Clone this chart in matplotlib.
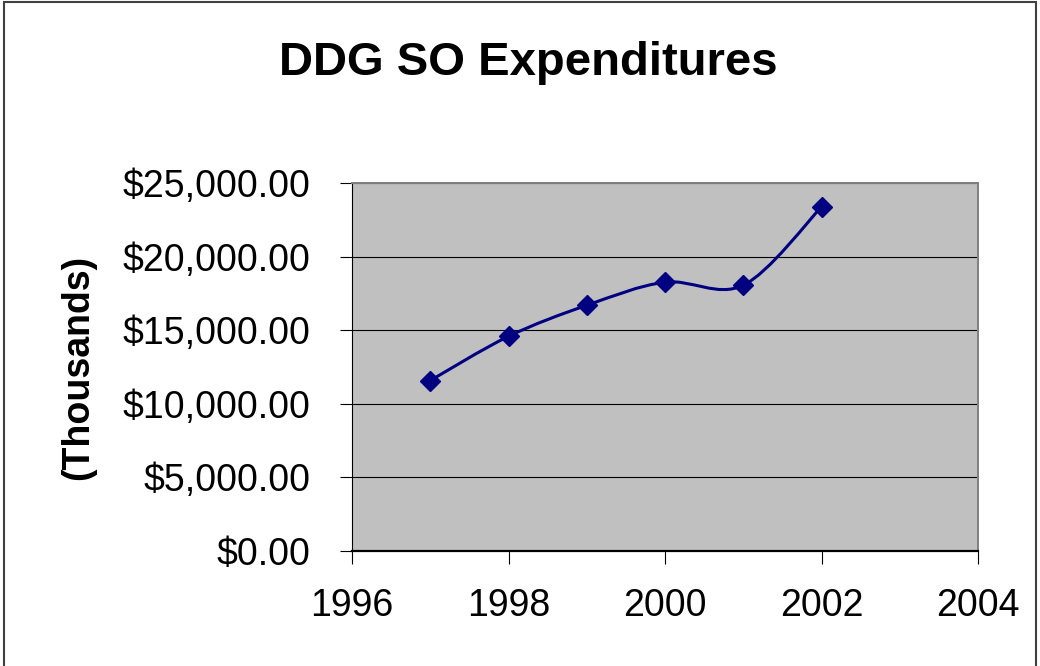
#!/usr/bin/env python3
"""DDG SO Expenditures - smoothed line with diamond markers, Excel style."""
import numpy as np
import matplotlib
matplotlib.use('Agg')
import matplotlib.pyplot as plt
from matplotlib.path import Path
from matplotlib.patches import PathPatch, Rectangle
from matplotlib.ticker import FuncFormatter, MultipleLocator

plt.rcParams.update({
    'font.family': ['Liberation Sans', 'DejaVu Sans'],
})

# data (thousands of dollars)
years = [1997, 1998, 1999, 2000, 2001, 2002]
expenditures = [11580, 14580, 16690, 18260, 18050, 23370]

TITLE = 'DDG SO Expenditures'
YLABEL = '(Thousands)'
NAVY = '#000080'


def smooth_path(x, y):
    # Excel-like smoothing: cubic Bezier segments, Catmull-Rom style control points
    pts = np.column_stack([x, y]).astype(float)
    ext = np.vstack([pts[0], pts, pts[-1]])
    verts = [pts[0]]
    codes = [Path.MOVETO]
    for i in range(len(pts) - 1):
        p0, p1, p2, p3 = ext[i], ext[i + 1], ext[i + 2], ext[i + 3]
        c1 = p1 + (p2 - p0) / 6.0
        c2 = p2 - (p3 - p1) / 6.0
        verts += [c1, c2, p2]
        codes += [Path.CURVE4] * 3
    return Path(verts, codes)


fig = plt.figure(figsize=(10.4, 6.66), dpi=100)
ax = fig.add_axes([0.3385, 0.1727, 0.6019, 0.5526])

ax.set_facecolor('#C0C0C0')
ax.add_patch(PathPatch(smooth_path(years, expenditures), fill=False,
                       edgecolor=NAVY, linewidth=2.2, zorder=3))
ax.plot(years, expenditures, 'D', color=NAVY, markersize=10.5, zorder=4)

ax.set_xlim(1996, 2004)
ax.set_ylim(0, 25000)
ax.xaxis.set_major_locator(MultipleLocator(2))
ax.yaxis.set_major_locator(MultipleLocator(5000))
ax.yaxis.set_major_formatter(FuncFormatter(lambda v, _: f'${v:,.2f}'))

ax.grid(axis='y', color='black', linewidth=0.8)
ax.set_axisbelow(True)
ax.tick_params(axis='both', direction='out', length=9, width=0.8, color='black',
               labelsize=27)
ax.tick_params(axis='y', pad=21)
ax.tick_params(axis='x', pad=18)

for side in ('top', 'right'):
    ax.spines[side].set_color('#808080')
    ax.spines[side].set_linewidth(1.4)
ax.spines['left'].set_color('black')
ax.spines['bottom'].set_color('black')
ax.spines['bottom'].set_linewidth(1.6)

ax.set_ylabel(YLABEL, fontsize=27, fontweight='bold', labelpad=19)
fig.text(0.508, 0.905, TITLE, ha='center', va='center', fontsize=34, fontweight='bold')

# chart area border
fig.patches.append(Rectangle((0.004, -0.02), 0.992, 1.017, transform=fig.transFigure,
                             fill=False, edgecolor='#404040', linewidth=1.5))

fig.savefig('out.png', dpi=100)
